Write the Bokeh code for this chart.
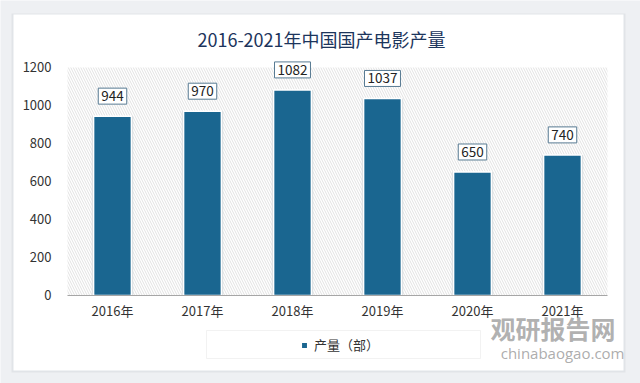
from bokeh.plotting import figure
from bokeh.models import (ColumnDataSource, Label, BoxAnnotation, Legend, LegendItem,
                          FixedTicker, Range1d)
from bokeh.embed import file_html
from bokeh.resources import INLINE

years = ["2016年", "2017年", "2018年", "2019年", "2020年", "2021年"]
values = [944, 970, 1082, 1037, 650, 740]
y_ticks = [0, 200, 400, 600, 800, 1000, 1200]
title_text = "2016-2021年中国国产电影产量"
series_name = "产量（部）"

BAR = "#1a6690"
CJK = "Noto Sans CJK SC"
PAGE = "#eef0f3"
W, H = 640, 383

pos = list(range(len(years)))
src = ColumnDataSource(dict(x=pos, value=values))

# frame = whole canvas; the axes are pinned inside it
p = figure(width=W, height=H, output_backend="svg", toolbar_location=None,
           x_range=Range1d(-1.2444, 5.8667), y_range=Range1d(-463.2, 1552.6),
           min_border=0, min_border_left=0, min_border_right=0,
           min_border_top=0, min_border_bottom=0,
           border_fill_color=PAGE, background_fill_color=PAGE,
           outline_line_color=None)

# card shadow + white card (screen units: from frame bottom-left, y up)
p.add_layout(BoxAnnotation(left=11, right=625, bottom=11, top=370,
                           left_units="screen", right_units="screen",
                           bottom_units="screen", top_units="screen",
                           fill_color="#e1e4e8", fill_alpha=1, line_color=None,
                           level="underlay"))
p.add_layout(BoxAnnotation(left=13, right=623, bottom=13, top=369,
                           left_units="screen", right_units="screen",
                           bottom_units="screen", top_units="screen",
                           fill_color="white", fill_alpha=1, line_color=None,
                           level="underlay"))

# hatched plot area
p.add_layout(BoxAnnotation(left=-0.5, right=len(years) - 0.5, bottom=0, top=1200,
                           fill_color="white", fill_alpha=1, line_color=None,
                           hatch_pattern="\\", hatch_color="#e2e2e2", hatch_scale=5,
                           hatch_weight=1, level="underlay"))

# shadow + bars
p.vbar(x="x", top="value", width=0.46, source=src, fill_color="#cfd4d8",
       fill_alpha=0.7, line_color=None)
bars = p.vbar(x="x", top="value", width=0.42, source=src, fill_color=BAR,
              line_color="white", line_width=1.5)

for i, v in zip(pos, values):
    p.add_layout(Label(x=i, y=v, text=str(v), y_offset=12,
                       text_align="center", text_baseline="bottom",
                       text_font=CJK, text_font_size="13.5px", text_color="#222222",
                       background_fill_color="white", border_line_color="#587b93",
                       border_line_width=1, padding=3))

p.grid.grid_line_color = None

p.yaxis.fixed_location = -0.5
p.yaxis.ticker = FixedTicker(ticks=y_ticks)
p.yaxis.axis_line_color = None
p.yaxis.major_tick_line_color = None
p.yaxis.minor_tick_line_color = None
p.yaxis.major_label_text_font = CJK
p.yaxis.major_label_text_font_size = "13px"
p.yaxis.major_label_text_color = "#333333"
p.yaxis.major_label_standoff = 10

p.xaxis.fixed_location = 0
p.xaxis.bounds = (-0.5, len(years) - 0.5)
p.xaxis.ticker = FixedTicker(ticks=pos)
p.xaxis.major_label_overrides = {i: y for i, y in zip(pos, years)}
p.xaxis.axis_line_color = "#a6a6a6"
p.xaxis.major_tick_line_color = None
p.xaxis.major_tick_out = 0
p.xaxis.major_tick_in = 0
p.xaxis.minor_tick_line_color = None
p.xaxis.major_label_text_font = CJK
p.xaxis.major_label_text_font_size = "13px"
p.xaxis.major_label_text_color = "#333333"
p.xaxis.major_label_standoff = 6

# title
p.add_layout(Label(x=321, y=H - 38, x_units="screen", y_units="screen", text=title_text,
                   text_align="center", text_baseline="middle", text_font=CJK,
                   text_font_size="18px", text_color="#1c355c"))

# legend box + legend
p.add_layout(BoxAnnotation(left=206, right=480, bottom=H - 358, top=H - 330,
                           left_units="screen", right_units="screen",
                           bottom_units="screen", top_units="screen",
                           fill_color="white", fill_alpha=1, line_color="#d4d4d4",
                           line_width=1, level="underlay"))
legend = Legend(items=[LegendItem(label=series_name, renderers=[bars])],
                location=(300, H - 354), padding=0, margin=0, border_line_color=None,
                background_fill_alpha=0, glyph_width=8, glyph_height=8,
                label_standoff=6, label_text_font=CJK, label_text_font_size="13px",
                label_text_color="#333333")
p.add_layout(legend)

# watermark
p.add_layout(Label(x=615, y=H - 327, x_units="screen", y_units="screen", text="观研报告网",
                   text_align="right", text_baseline="middle", text_font=CJK,
                   text_font_style="bold", text_font_size="25px", text_color="#a3a3a3",
                   text_alpha=0.85))
p.add_layout(Label(x=624, y=H - 352, x_units="screen", y_units="screen", text="chinabaogao.com",
                   text_align="right", text_baseline="middle", text_font="Open Sans",
                   text_font_size="15px", text_color="#a3a3a3", text_alpha=0.9))

open("out.html", "w").write(file_html(p, INLINE))
